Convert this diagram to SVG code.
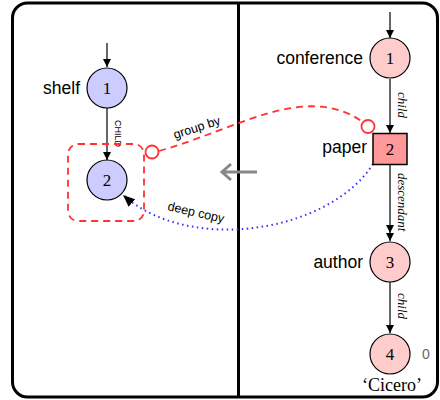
<svg xmlns="http://www.w3.org/2000/svg" width="440" height="400" viewBox="0 0 440 400">
<style>
.lbl{font-family:"Liberation Sans",Arial,sans-serif;font-size:17.5px;fill:#000}
.num{font-family:"Liberation Serif","Times New Roman",serif;font-size:17px;fill:#000}
.edge{font-family:"Liberation Serif","Times New Roman",serif;font-style:italic;font-size:13px;fill:#000}
.small{font-family:"Liberation Sans",Arial,sans-serif;font-size:12.5px;fill:#000}
.blue{fill:#ccf;stroke:#000;stroke-width:1.2}
.pink{fill:#fcc;stroke:#000;stroke-width:1.2}
.line{stroke:#000;stroke-width:1.2;fill:none}
</style>
<defs>
<marker id="ah" viewBox="0 0 10 10" refX="10" refY="5" markerWidth="8" markerHeight="8" markerUnits="userSpaceOnUse" orient="auto">
<path d="M0,0 L10,5 L0,10 z" fill="#000"/>
</marker>
<marker id="ahb" viewBox="0 0 12 10" refX="12" refY="5" markerWidth="12" markerHeight="10" markerUnits="userSpaceOnUse" orient="auto">
<path d="M0,0 L12,5 L0,10 z" fill="#000"/>
</marker>
<marker id="ahd" viewBox="0 0 20 10" refX="20" refY="5" markerWidth="20" markerHeight="8" markerUnits="userSpaceOnUse" orient="auto">
<path d="M0,0 L10,5 L0,10 z M10,0 L20,5 L10,10 z" fill="#000"/>
</marker>
</defs>
<rect x="12.5" y="3" width="425" height="394" rx="15" fill="#fff" stroke="#000" stroke-width="3"/>
<line x1="238.5" y1="3" x2="238.5" y2="397" stroke="#000" stroke-width="3"/>

<g id="connectors">
<line class="line" x1="107" y1="43" x2="107" y2="67" marker-end="url(#ah)"/>
<line class="line" x1="107" y1="108" x2="107" y2="160" marker-end="url(#ah)"/>
<text class="small" style="font-size:9px" transform="translate(115,120) rotate(90)">CHILD</text>
<line class="line" x1="390" y1="12" x2="390" y2="38" marker-end="url(#ah)"/>
<line class="line" x1="390" y1="79" x2="390" y2="133" marker-end="url(#ah)"/>
<text class="edge" transform="translate(398,92) rotate(90)">child</text>
<line class="line" x1="390" y1="164" x2="390" y2="241" marker-end="url(#ahd)"/>
<text class="edge" transform="translate(398,173) rotate(90)">descendant</text>
<line class="line" x1="390" y1="282" x2="390" y2="333" marker-end="url(#ah)"/>
<text class="edge" transform="translate(398,293) rotate(90)">child</text>
<rect x="68" y="144" width="76" height="77" rx="10" fill="none" stroke="#f33" stroke-width="1.8" stroke-dasharray="7,5"/>
<circle cx="152" cy="152" r="6.5" fill="none" stroke="#f33" stroke-width="1.8"/>
<path d="M159,151 C240,128 305,82 363,122" fill="none" stroke="#f33" stroke-width="1.8" stroke-dasharray="7,5"/>
<circle cx="368" cy="126.5" r="6.5" fill="none" stroke="#f33" stroke-width="1.8"/>
<text class="small" transform="translate(175,139) rotate(-18)">group by</text>
<path d="M373,164 C330,232 190,255 123,195" fill="none" stroke="#33f" stroke-width="2" stroke-dasharray="1.5,3.5" marker-end="url(#ahb)"/>
<text class="small" transform="translate(167,210) rotate(13)">deep copy</text>
<path d="M257,172 L222,172 M231,164 L222,172 L231,180" fill="none" stroke="#888" stroke-width="3"/>
</g>

<g id="shelf">
<circle class="blue" cx="107" cy="88" r="20"/>
<text class="num" x="107" y="94" text-anchor="middle">1</text>
<text class="lbl" x="80" y="94" text-anchor="end">shelf</text>
</g>
<g id="shelf2">
<circle class="blue" cx="107" cy="180" r="20"/>
<text class="num" x="107" y="186" text-anchor="middle">2</text>
</g>
<g id="conference">
<circle class="pink" cx="390" cy="58" r="20"/>
<text class="num" x="390" y="64" text-anchor="middle">1</text>
<text class="lbl" x="363" y="64" text-anchor="end">conference</text>
</g>
<g id="paper">
<rect x="373" y="133.5" width="34" height="31" fill="#f99" stroke="#000" stroke-width="1.5"/>
<text class="num" x="390" y="155" text-anchor="middle">2</text>
<text class="lbl" x="367" y="153" text-anchor="end">paper</text>
</g>
<g id="author">
<circle class="pink" cx="390" cy="262" r="20"/>
<text class="num" x="390" y="268" text-anchor="middle">3</text>
<text class="lbl" x="363" y="268" text-anchor="end">author</text>
</g>
<g id="cicero">
<circle class="pink" cx="390" cy="354" r="20"/>
<text class="num" x="390" y="360" text-anchor="middle">4</text>
<text x="426" y="359" text-anchor="middle" style="font-family:'Liberation Sans',Arial,sans-serif;font-size:14px;fill:#666">0</text>
<text class="num" x="392" y="391" text-anchor="middle" style="font-size:18px">‘Cicero’</text>
</g>
</svg>
